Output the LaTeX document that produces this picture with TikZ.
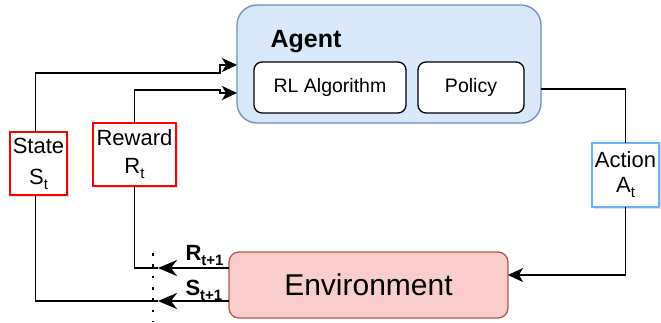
\documentclass[tikz,border=0pt]{standalone}
\usepackage{fontspec}
\setmainfont{Liberation Sans}
\usetikzlibrary{arrows.meta,shadows}
\definecolor{agentfill}{HTML}{DAE8FC}
\definecolor{agentdraw}{HTML}{6C8EBF}
\definecolor{envfill}{HTML}{F8CECC}
\definecolor{envdraw}{HTML}{B85450}
\definecolor{actdraw}{HTML}{66B2FF}
\newcommand{\lowsub}[2]{\raisebox{-5pt}{\fontsize{#1}{#1}\selectfont #2}}
\tikzset{
  thintip/.tip={Stealth[length=15pt,width=14pt,inset=4pt]},
  boldtip/.tip={Stealth[length=19pt,width=16pt,inset=6pt]}
}
\begin{document}
\begin{tikzpicture}[x=1pt,y=-1pt,
  conn/.style={line width=1.3pt, draw=black},
  boldconn/.style={line width=2.3pt, draw=black},
  shbox/.style={draw, line width=1.3pt, fill=white, outer sep=0pt, inner sep=0pt,
    align=center, drop shadow={opacity=0.25, shadow xshift=2pt, shadow yshift=-2pt}},
  innerbox/.style={draw, line width=1.3pt, rounded corners=8pt, outer sep=0pt,
    fill=white, font=\fontsize{19.5}{22}\selectfont},
  dotline/.style={line width=2.8pt, dash pattern=on 2.8pt off 8.5pt}
]
\useasboundingbox (0,0) rectangle (661,322);

% Agent
\node[draw=agentdraw, fill=agentfill, line width=1.3pt, rounded corners=20pt,
  minimum width=304pt, minimum height=118pt, outer sep=0pt] (agent) at (389,64) {};
\node[anchor=base west, font=\fontsize{25}{30}\selectfont\bfseries] (agentlabel) at (267,47) {Agent};
\node[innerbox, minimum width=152pt, minimum height=51pt] (rl) at (330,87.5) {RL Algorithm};
\node[innerbox, minimum width=106pt, minimum height=51pt] (policy) at (471,87.5) {Policy};

% Environment
\node[draw=envdraw, fill=envfill, line width=1.3pt, rounded corners=10pt,
  minimum width=279pt, minimum height=66pt, outer sep=0pt,
  font=\fontsize{30}{34}\selectfont] (env) at (368.5,285) {Environment};

% Signal boxes
\node[shbox, draw=red, minimum width=57pt, minimum height=63pt,
  font=\fontsize{22}{31}\selectfont] (state) at (38.5,163.5) {State\\S\lowsub{15}{t}};
\node[shbox, draw=red, minimum width=83pt, minimum height=63pt,
  font=\fontsize{22}{28}\selectfont] (reward) at (134.5,154.5) {Reward\\R\lowsub{15}{t}};
\node[shbox, draw=actdraw, minimum width=67pt, minimum height=64pt,
  font=\fontsize{22}{25}\selectfont] (action) at (625.5,175) {Action\\A\lowsub{15}{t}};

% helper coordinates
\coordinate (sbend) at (220,73);
\coordinate (sjog) at (220,65);
\coordinate (rbend) at (220,90);
\coordinate (rjog) at (220,93);
\coordinate (ypol) at (0,89);
\coordinate (yact) at (0,275);
\coordinate (rtip) at (158,268);
\coordinate (stip) at (158,301);
\coordinate (dottop) at (153,253);
\coordinate (dotbot) at (153,322);

% State -> Agent
\draw[conn, -thintip] ([xshift=-3pt]state.north) |- (sbend) -- (sjog) -- (agent.west |- sjog);
% Reward -> Agent
\draw[conn, -thintip] (reward.north) |- (rbend) -- (rjog) -- (agent.west |- rjog);
% Agent -> Action
\draw[conn] (agent.east |- ypol) -| (action.north);
% Action -> Environment
\draw[conn, -thintip] (action.south) |- (env.east |- yact);
% Environment -> Reward / State
\draw[conn] (reward.south) |- (rtip);
\draw[conn] ([xshift=-3pt]state.south) |- (stip);
\draw[boldconn, -boldtip] (env.west |- rtip) -- (rtip);
\draw[boldconn, -boldtip] (env.west |- stip) -- (stip);

% dotted separator
\draw[dotline] (dottop) -- (dotbot);

% labels
\node[anchor=base west, font=\fontsize{22}{24}\selectfont\bfseries] (rlab) at (182,260)
  {R\lowsub{15}{\bfseries t+1}};
\node[anchor=base west, font=\fontsize{22}{24}\selectfont\bfseries] (slab) at (182,295)
  {S\lowsub{15}{\bfseries t+1}};
\end{tikzpicture}
\end{document}
